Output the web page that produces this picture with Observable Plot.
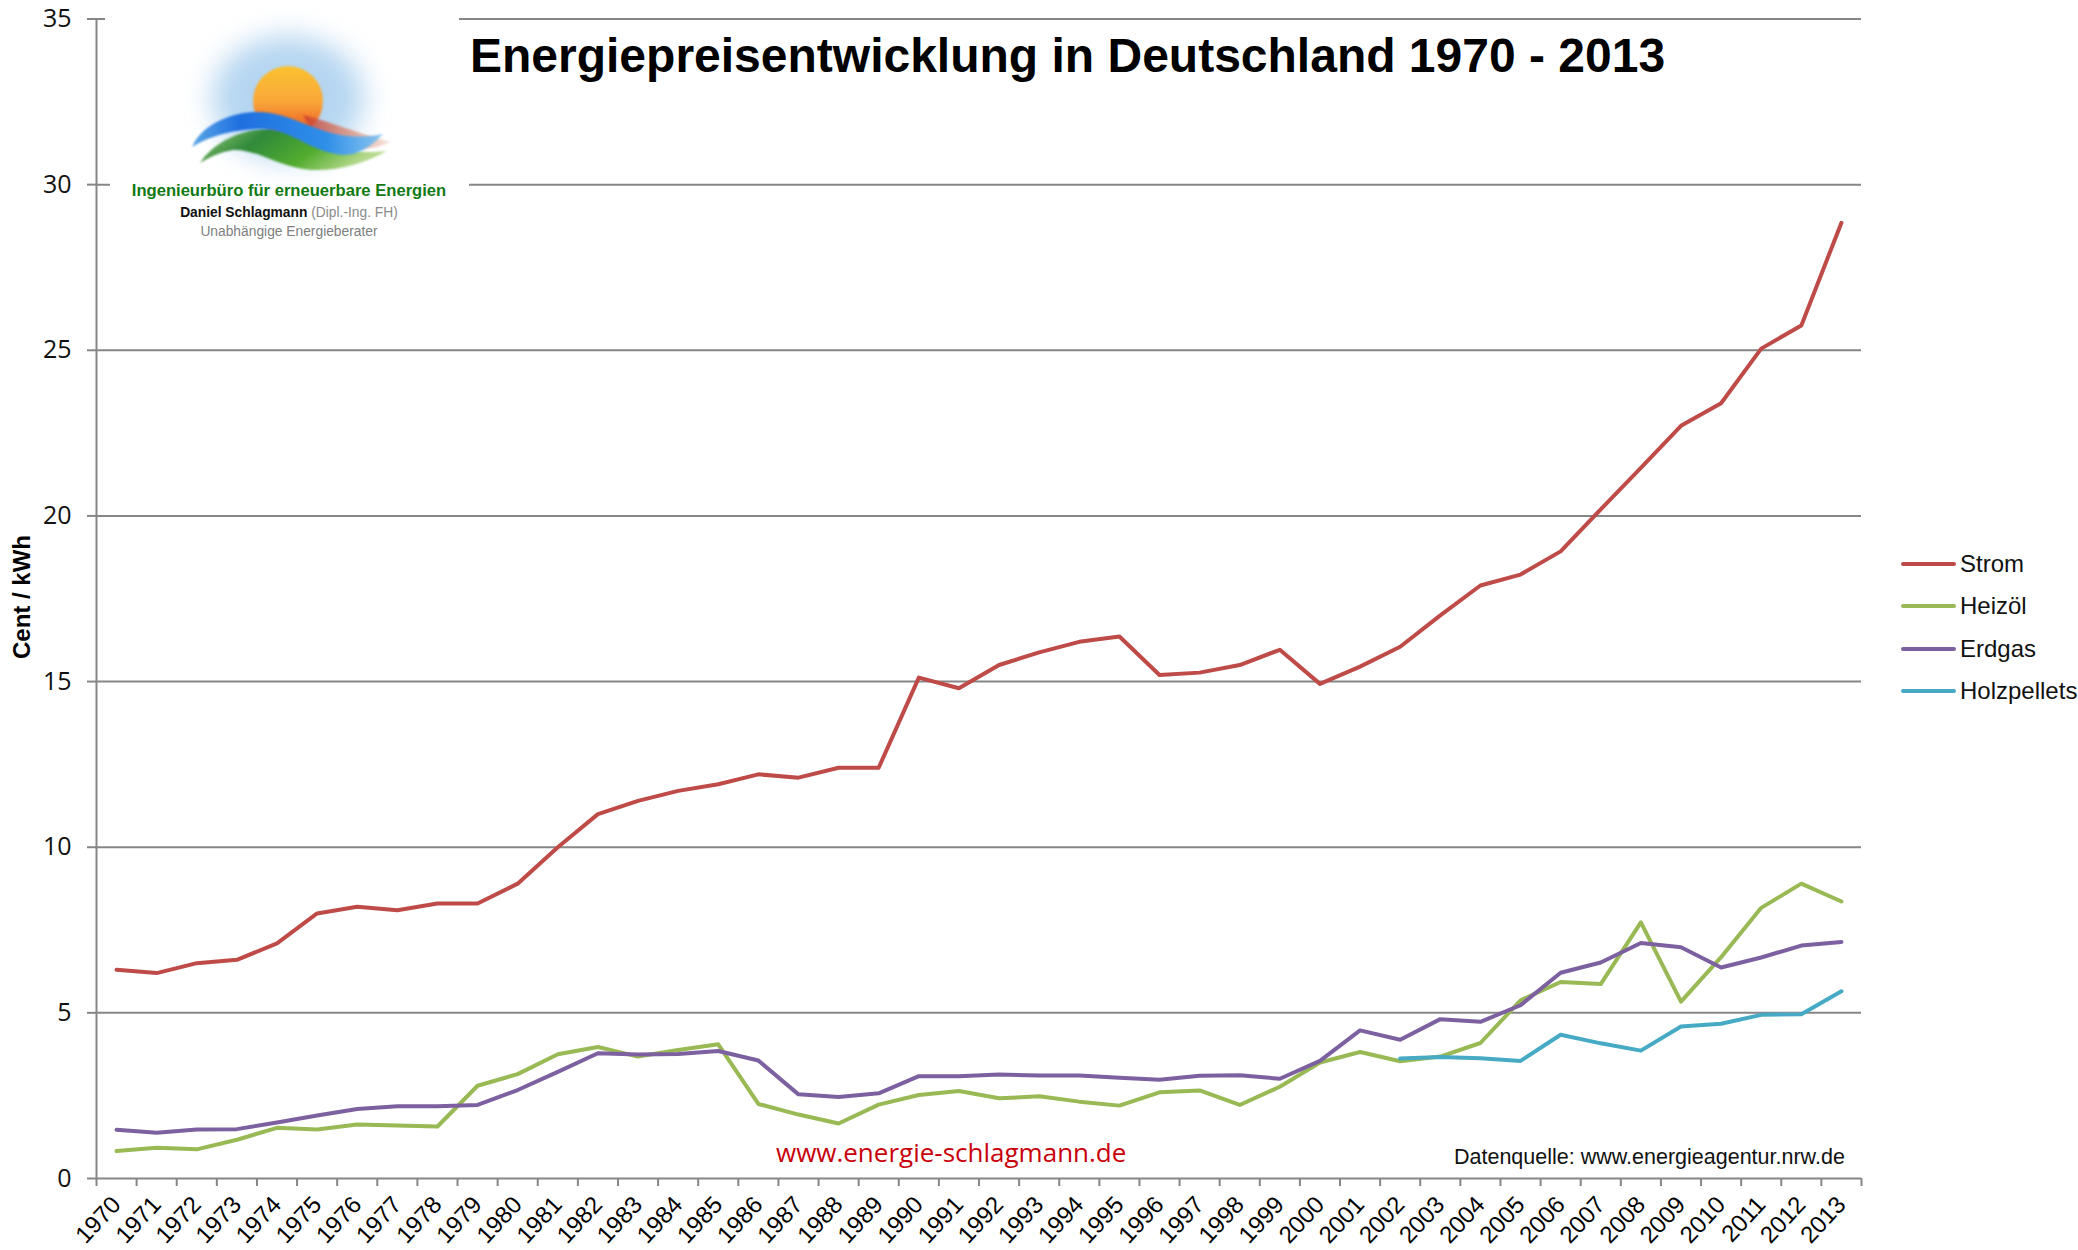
<!DOCTYPE html>
<html lang="de">
<head>
<meta charset="utf-8">
<script src="https://cdn.jsdelivr.net/npm/d3@7"></script>
<script src="https://cdn.jsdelivr.net/npm/@observablehq/plot@0.6"></script>
<style>
  html, body { margin: 0; padding: 0; background: #fff; }
  #stage { position: relative; width: 2078px; height: 1250px; overflow: hidden; font-family: "Liberation Sans", Arial, sans-serif; }
  #stage > * { position: absolute; }
  #chart svg { display: block; }
  .ov { white-space: nowrap; line-height: 1; }
  #logo { left: 0; top: 0; }
</style>
</head>
<body>
<div id="stage">
  <div id="chart" style="left:0;top:0"></div>
  <svg id="logo" width="520" height="260" xmlns="http://www.w3.org/2000/svg">
    <defs>
      <filter id="blur14" x="-40%" y="-40%" width="180%" height="180%"><feGaussianBlur stdDeviation="14"/></filter>
      <filter id="blur1" x="-10%" y="-10%" width="120%" height="120%"><feGaussianBlur stdDeviation="0.8"/></filter>
      <linearGradient id="sun" x1="0" y1="0" x2="0" y2="1">
        <stop offset="0" stop-color="#fbc22f"/><stop offset="0.5" stop-color="#f9a83a"/><stop offset="0.85" stop-color="#ef6a25"/><stop offset="1" stop-color="#e8501f"/>
      </linearGradient>
      <linearGradient id="blue" x1="0" y1="0" x2="1" y2="0">
        <stop offset="0" stop-color="#5aa7e6"/><stop offset="0.25" stop-color="#1f6fe0"/><stop offset="0.7" stop-color="#2f8fe8"/><stop offset="1" stop-color="#8cc6ef"/>
      </linearGradient>
      <linearGradient id="green" x1="0" y1="0" x2="1" y2="0.3">
        <stop offset="0" stop-color="#9cc77a"/><stop offset="0.35" stop-color="#2f8a3a"/><stop offset="0.7" stop-color="#52ac2e"/><stop offset="1" stop-color="#b5d98c"/>
      </linearGradient>
      <linearGradient id="red" x1="0" y1="0" x2="1" y2="0">
        <stop offset="0" stop-color="#c93a2a"/><stop offset="0.6" stop-color="#dc9a85"/><stop offset="1" stop-color="#f6e2db"/>
      </linearGradient>
    </defs>
    <rect x="105" y="14" width="354" height="12" fill="#fff"/>
    <rect x="110" y="24" width="359" height="236" fill="#fff"/>
    <ellipse cx="288" cy="98" rx="76" ry="62" fill="#9cc8ec" opacity="0.75" filter="url(#blur14)"/>
    <circle cx="288" cy="101" r="35" fill="url(#sun)" filter="url(#blur1)"/>
    <path d="M303,115 C325,120 360,134 391,142 C375,150 350,152 318,142 Z" fill="url(#red)" opacity="0.8" filter="url(#blur1)"/>
    <path d="M200,163 C215,140 245,129 268,129 C305,130 330,158 387,151 C365,163 340,171 312,170 C280,168 258,149 233,150 C220,152 210,157 200,163 Z" fill="url(#green)" filter="url(#blur1)"/>
    <path d="M192,147 C203,122 235,112 257,112 C300,112 325,146 383,134 C372,146 358,155 345,155 C310,153 295,130 262,129 C240,129 212,134 192,147 Z" fill="url(#blue)" filter="url(#blur1)"/>
    <text x="289" y="196" text-anchor="middle" font-family="Liberation Sans" font-weight="700" font-size="16.6" fill="#127a12">Ingenieurbüro für erneuerbare Energien</text>
    <text x="289" y="217" text-anchor="middle" font-family="Liberation Sans" font-size="13.8" fill="#8a8a8a"><tspan font-weight="700" fill="#111">Daniel Schlagmann</tspan> (Dipl.-Ing. FH)</text>
    <text x="289" y="236" text-anchor="middle" font-family="Liberation Sans" font-size="13.8" fill="#808080">Unabhängige Energieberater</text>
  </svg>
  <div class="ov" style="left:470px;top:32px;font-size:48px;font-weight:700;color:#000">Energiepreisentwicklung in Deutschland 1970 - 2013</div>
  <div class="ov" style="left:776px;top:1139px;font-family:'Open Sans';font-size:26px;color:#c8000a">www.energie-schlagmann.de</div>
  <div class="ov" style="left:1454px;top:1147px;font-size:21.5px;color:#111">Datenquelle: www.energieagentur.nrw.de</div>
  <div class="ov" style="left:22px;top:597px;font-size:24px;font-weight:700;color:#000;transform:translate(-50%,-50%) rotate(-90deg)">Cent / kWh</div>
  <div id="legend"></div>
</div>
<script>
const years = [1970,1971,1972,1973,1974,1975,1976,1977,1978,1979,1980,1981,1982,1983,1984,1985,1986,1987,1988,1989,1990,1991,1992,1993,1994,1995,1996,1997,1998,1999,2000,2001,2002,2003,2004,2005,2006,2007,2008,2009,2010,2011,2012,2013];
const strom = [6.3,6.2,6.5,6.6,7.1,8.0,8.2,8.1,8.3,8.3,8.9,10.0,11.0,11.4,11.7,11.9,12.2,12.1,12.4,12.4,15.12,14.8,15.5,15.88,16.2,16.36,15.2,15.27,15.5,15.96,14.93,15.45,16.05,17.0,17.9,18.23,18.93,20.2,21.45,22.72,23.4,25.05,25.75,28.85];
const heizoel = [0.83,0.93,0.88,1.17,1.53,1.48,1.63,1.6,1.57,2.8,3.15,3.75,3.97,3.68,3.88,4.05,2.25,1.93,1.66,2.23,2.52,2.64,2.42,2.48,2.32,2.2,2.6,2.66,2.22,2.77,3.5,3.82,3.54,3.68,4.09,5.38,5.93,5.87,7.73,5.34,6.68,8.17,8.9,8.36];
const erdgas = [1.47,1.38,1.48,1.49,1.69,1.9,2.1,2.18,2.18,2.22,2.67,3.22,3.78,3.74,3.76,3.85,3.56,2.54,2.46,2.57,3.09,3.09,3.14,3.11,3.11,3.04,2.98,3.1,3.12,3.01,3.55,4.47,4.19,4.81,4.73,5.23,6.21,6.52,7.11,6.98,6.37,6.67,7.03,7.14];
const holzYears = [2002,2003,2004,2005,2006,2007,2008,2009,2010,2011,2012,2013];
const holzpellets = [3.62,3.67,3.63,3.55,4.34,4.08,3.86,4.59,4.67,4.94,4.96,5.65];
const yTicks = [0,5,10,15,20,25,30,35];
const seriesNames = ["Strom","Heizöl","Erdgas","Holzpellets"];
const seriesColors = ["#BE4B48","#98B954","#7D60A0","#46AAC5"];

const rows = [];
years.forEach((year, i) => {
  rows.push({year, value: strom[i], name: "Strom"});
  rows.push({year, value: heizoel[i], name: "Heizöl"});
  rows.push({year, value: erdgas[i], name: "Erdgas"});
});
holzYears.forEach((year, i) => rows.push({year, value: holzpellets[i], name: "Holzpellets"}));

const edges = years.map(y => y - 0.5).concat(years[years.length - 1] + 0.5);
const gray = "#868686";

const plot = Plot.plot({
  width: 2078,
  height: 1250,
  marginLeft: 96,
  marginRight: 217,
  marginTop: 18.5,
  marginBottom: 72,
  style: {background: "transparent", overflow: "visible"},
  x: {type: "linear", domain: [1969.5, 2013.5]},
  y: {domain: [0, 35]},
  color: {domain: seriesNames, range: seriesColors},
  marks: [
    Plot.ruleY(yTicks, {stroke: gray, strokeWidth: 2, strokeOpacity: 1}),
    Plot.ruleX([1969.5], {stroke: gray, strokeWidth: 2, strokeOpacity: 1}),
    Plot.axisY({
      ticks: yTicks, tickSize: 9, tickPadding: 16, stroke: gray, strokeWidth: 2, strokeOpacity: 1,
      tickFormat: d => String(d), label: null,
      fontFamily: "Open Sans", fontSize: 25, fill: "#111"
    }),
    Plot.axisX({
      ticks: edges, tickSize: 8, stroke: gray, strokeWidth: 2, strokeOpacity: 1,
      tickFormat: () => "", label: null
    }),
    Plot.axisX({
      ticks: years, tickSize: 0, tickPadding: 22, tickRotate: -47,
      tickFormat: d => String(d), label: null,
      fontFamily: "Liberation Sans", fontSize: 24, fill: "#000",
      textAnchor: "end", lineAnchor: "middle"
    }),
    Plot.line(rows, {
      x: "year", y: "value", z: "name", stroke: "name",
      strokeWidth: 4, strokeLinejoin: "round", strokeLinecap: "round", curve: "linear"
    })
  ]
});
document.getElementById("chart").appendChild(plot);

// legend
const legend = document.getElementById("legend");
legend.style.cssText = "left:0;top:0";
const legendY = [564, 606, 649, 691];
seriesNames.forEach((name, i) => {
  const line = document.createElement("div");
  line.style.cssText = `position:absolute;left:1901px;top:${legendY[i] - 2}px;width:55px;height:4px;border-radius:2px;background:${seriesColors[i]}`;
  const label = document.createElement("div");
  label.className = "ov";
  label.style.cssText = `position:absolute;left:1960px;top:${legendY[i] - 12}px;font-size:24px;color:#111`;
  label.textContent = name;
  legend.append(line, label);
});
</script>
</body>
</html>
